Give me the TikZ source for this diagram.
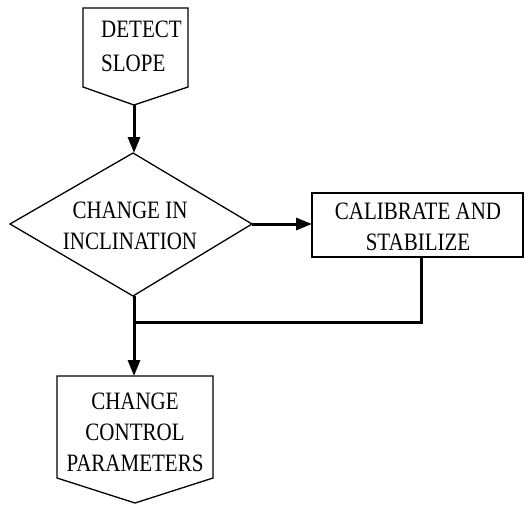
\documentclass[tikz,border=0pt]{standalone}
\usepackage{fontspec}
\setmainfont{Liberation Serif}[FakeStretch=0.84]
\usetikzlibrary{arrows.meta}
\begin{document}
\begin{tikzpicture}[x=1pt,y=-1pt,
  shapeline/.style={draw=black,line width=1.3pt,line join=miter},
  conn/.style={draw=black,line width=3pt},
  arr/.style={conn,-{Triangle[length=16pt,width=12pt]}},
  txt/.style={font=\fontsize{25}{31}\selectfont,align=center,inner sep=0pt}]
\useasboundingbox (0,0) rectangle (529,504);
% shapes
\draw[shapeline] (83,8) -- (188,8) -- (188,87) -- (134,105) -- (83,87) -- cycle;
\draw[shapeline] (133,153) -- (252,224) -- (133,296) -- (10,224) -- cycle;
\draw[shapeline] (312,193) rectangle (523,257);
\draw[shapeline] (57,376) -- (213,376) -- (213,478) -- (135,503) -- (57,478) -- cycle;
% anchor coordinates
\coordinate (detectOut) at (134,105);
\coordinate (diaTop) at (134,153);
\coordinate (diaRight) at (252,224);
\coordinate (diaBottom) at (134,296);
\coordinate (calWest) at (312,224);
\coordinate (calSouth) at (421,257);
\coordinate (join) at (134,322);
\coordinate (paramTop) at (134,376);
% texts
\node[txt,font=\fontsize{25}{34}\selectfont,align=left,anchor=north west] (detect) at (101,21) {DETECT\\SLOPE};
\node[txt] (incl) at (130,226) {CHANGE IN\\INCLINATION};
\node[txt] (cal) at (418,227) {CALIBRATE AND\\STABILIZE};
\node[txt] (param) at (135,432) {CHANGE\\CONTROL\\PARAMETERS};
% connectors
\draw[arr] (detectOut) -- (diaTop);
\draw[arr] (diaRight) -- (calWest);
\draw[conn] (calSouth) |- (join);
\draw[arr] (diaBottom) -- (paramTop);
\end{tikzpicture}
\end{document}
